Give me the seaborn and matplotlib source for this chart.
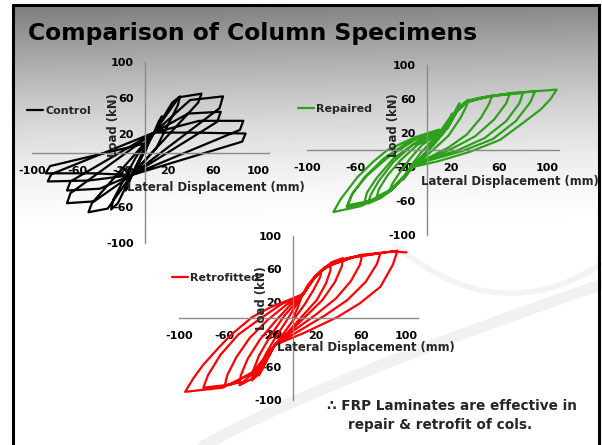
import numpy as np
import pandas as pd
import matplotlib
matplotlib.use("Agg")
import matplotlib.pyplot as plt
import seaborn as sns

sns.set_style("white")
plt.rcParams['font.family'] = ['DejaVu Sans']
plt.rcParams['font.weight'] = 'bold'

# ---------------- data (displacement mm, load kN) ----------------
control_x = [0, 3, 6, 2, -4, -8, -5, 0,
             8, 12, 15, 12, 0, -12, -15, -17, -14, -2,
             8, 24, 31, 29, 10, -12, -24, -30, -28, -8,
             8, 30, 50, 47, -12, -33, -50, -47,
             8, 40, 69, 66, -12, -45, -69, -66,
             8, 38, 67, 64, -12, -40, -69, -66,
             8, 48, 87, 84, -12, -50, -86, -83,
             8, 40, 89, 86, -12, -45, -88, -84, 0]
control_y = [0, 10, 18, 8, -8, -20, -10, 3,
             22, 34, 40, 30, 5, -25, -36, -42, -32, 0,
             22, 55, 62, 52, 5, -25, -56, -63, -52, -5,
             22, 61, 65, 55, -25, -62, -66, -56,
             22, 58, 62, 49, -25, -54, -56, -45,
             22, 43, 45, 34, -25, -40, -42, -32,
             22, 35, 35, 25, -25, -31, -32, -24,
             22, 22, 21, 12, -25, -23, -23, -15, 10]

repaired_x = [0, 5, 10, 15, 19, 21, 20, 16, 10, 2, -6, -12, -17, -20, -18, -13, -5, 5,
              12, 17, 22, 25, 27, 26, 22, 15, 5, -5, -12, -20, -26, -31, -29, -23, -14, -4, 8, 17,
              23, 28, 34, 33, 28, 18, 5, -12, -22, -32, -42, -40, -33, -22, -8, 5, 17,
              24, 32, 42, 54, 52, 45, 33, 18, 0, -12, -26, -38, -49, -47, -40, -28, -12, 17,
              25, 33, 48, 69, 66, 56, 40, 20, -12, -27, -40, -52, -50, -42, -28, -8, 17,
              25, 34, 55, 80, 77, 66, 48, 26, 0, -12, -30, -48, -67, -63, -52, -36, -14, 17,
              26, 35, 60, 90, 86, 74, 55, 30, 0, -12, -30, -48, -66, -62, -50, -32, -10, 17,
              26, 36, 70, 108, 103, 95, 83, 61, 36, 10, -12, -32, -55, -78, -72, -58, -45,
              -33, -10, 10]
repaired_y = [0, 10, 20, 30, 38, 43, 38, 28, 16, 2, -10, -20, -30, -35, -29, -18, -3, 12,
              20, 30, 42, 50, 55, 49, 38, 22, 5, -9, -20, -32, -41, -47, -40, -27, -10, 6, 18, 26,
              42, 52, 59, 52, 38, 17, 0, -20, -36, -48, -55, -46, -30, -12, 6, 16, 26,
              44, 55, 61, 64, 55, 38, 18, 3, -10, -20, -42, -56, -63, -53, -36, -14, 6, 26,
              46, 56, 62, 66, 55, 36, 16, 1, -20, -44, -57, -61, -50, -33, -10, 10, 26,
              47, 57, 64, 67, 55, 34, 14, 0, -12, -20, -47, -61, -67, -53, -32, -10, 11, 26,
              48, 58, 65, 69, 56, 34, 13, -1, -13, -20, -48, -60, -65, -51, -30, -8, 12, 26,
              49, 59, 67, 71, 60, 48, 35, 12, -2, -13, -20, -50, -66, -73, -58, -32, -14,
              0, 15, 24]

retro_x = [0, 4, 8, 13, 19, 25, 24, 18, 10, 0, -10, -16, -22, -26, -30, -29, -24, -16, -6, 2, 9,
           15, 22, 28, 33, 33, 29, 21, 8, -5, -16, -24, -30, -36, -35, -30, -20, -8, 9,
           16, 24, 34, 44, 43, 37, 26, 12, -3, -16, -26, -36, -47, -46, -40, -29, -15, -3, 9,
           17, 26, 42, 61, 59, 51, 38, 20, 0, -16, -29, -44, -60, -58, -50, -38, -22, -6, 9,
           18, 28, 48, 77, 74, 64, 48, 28, 5, -16, -32, -54, -79, -75, -64, -48, -28, -10, 9,
           19, 30, 55, 92, 88, 77, 59, 39, 10, -16, -36, -62, -95, -88, -79, -66, -55, -36, -20, 9,
           19, 31, 60, 88, 100]
retro_y = [0, 12, 28, 40, 50, 58, 50, 34, 16, -3, -22, -33, -48, -60, -70, -60, -44, -25, -4, 14, 29,
           42, 54, 62, 65, 58, 42, 22, 2, -18, -33, -54, -68, -76, -64, -46, -22, 2, 29,
           44, 56, 68, 73, 63, 44, 22, 3, -17, -33, -56, -74, -82, -70, -50, -26, -3, 15, 29,
           46, 59, 71, 77, 65, 45, 24, 4, -16, -33, -60, -78, -82, -70, -48, -24, -2, 16, 29,
           48, 61, 73, 79, 66, 44, 22, 3, -16, -33, -63, -81, -85, -70, -45, -20, 0, 17, 29,
           49, 63, 75, 82, 65, 38, 18, 1, -18, -33, -67, -85, -90, -74, -57, -37, -21, 1, 13, 29,
           50, 64, 77, 81, 80]

tick_vals = [-100, -60, -20, 20, 60, 100]
tick_labels = ['-100', '-60', '-20', '20', '60', '100']

specimens = ['Control', 'Repaired', 'Retrofitted']
colors = ['#000000', '#2ea01c', '#ff0000']

W, H = 602, 445
fig = plt.figure(figsize=(W / 100, H / 100), dpi=100)

# ---------------- slide background ----------------
bg = fig.add_axes([0, 0, 1, 1])
bg.set_xlim(0, W)
bg.set_ylim(H, 0)
bg.axis('off')
yy = np.arange(H)[:, None] * np.ones((1, W))
xx = np.ones((H, 1)) * np.arange(W)[None, :]
t = np.clip((yy - 5) / 225.0, 0, 1)
gray = 0.50 + 0.50 * (1 - (1 - t) ** 1.6)
gray = gray + 0.05 * (xx / W) * (1 - t)
gray = np.clip(gray, 0, 1)
bg.imshow(gray, cmap='gray', vmin=0, vmax=1, extent=(13, 599, H, 5), aspect='auto', zorder=0)
# decorative swooshes
sx = np.linspace(170, 600, 200)
bg.plot(sx, 470 - 185 * ((sx - 170) / 430) ** 0.8, color='#f1f1f1', lw=8, zorder=1)
sx2 = np.linspace(395, 600, 100)
u = (sx2 - 395) / 205
bg.plot(sx2, 245 + 170 * u - 150 * u ** 2, color='#f3f3f3', lw=4, zorder=1)
bg.plot([13, 13, 599, 599], [H + 5, 5, 5, H + 5], color='black', lw=2.2, zorder=2,
        solid_joinstyle='miter')

fig.text(28 / W, 1 - 40 / H, 'Comparison of Column Specimens', fontsize=16.8,
         fontweight='bold', ha='left', va='baseline', color='black')


def make_axes(x0, x1, ytop, ybot):
    ax = fig.add_axes([x0 / W, 1 - ybot / H, (x1 - x0) / W, (ybot - ytop) / H])
    ax.patch.set_visible(False)
    ax.set_xlim(-100, 110)
    ax.set_ylim(-100, 100)
    for s in ['top', 'right']:
        ax.spines[s].set_visible(False)
    for s in ['left', 'bottom']:
        ax.spines[s].set_position(('data', 0))
        ax.spines[s].set_color('#8a8a8a')
        ax.spines[s].set_linewidth(1.0)
    ax.spines['bottom'].set_bounds(-100, 110)
    ax.set_xticks(tick_vals)
    ax.set_xticklabels(tick_labels)
    ax.set_yticks(tick_vals)
    ax.set_yticklabels(tick_labels)
    ax.tick_params(axis='both', direction='inout', length=5, width=1, color='#8a8a8a',
                   labelsize=8, labelcolor='black')
    ax.tick_params(axis='y', pad=5.5)
    ax.tick_params(axis='x', pad=7)
    for lab in ax.get_xticklabels() + ax.get_yticklabels():
        lab.set_fontweight('bold')
    return ax


axes_px = [(32, 32 + 210 * 1.13, 62, 243),
           (307, 307 + 210 * 1.2, 65, 235),
           (179.5, 179.5 + 210 * 1.135, 236, 400)]
data = [(control_x, control_y), (repaired_x, repaired_y), (retro_x, retro_y)]
legend_px = [(27, 111), (298, 109), (172, 278)]
xlab_px = [(127, 187), (421, 181), (277, 348)]
ylab_px = [(114, 125), (393, 125), (262, 298)]

for i in range(3):
    ax = make_axes(*axes_px[i])
    df = pd.DataFrame({'Lateral Displacement (mm)': data[i][0], 'Load (kN)': data[i][1]})
    sns.lineplot(data=df, x='Lateral Displacement (mm)', y='Load (kN)', sort=False,
                 estimator=None, color=colors[i], lw=1.6, ax=ax, label=specimens[i])
    for ln in ax.lines:
        ln.set_solid_joinstyle('round')
        ln.set_clip_on(False)
    ax.set_xlabel('')
    ax.set_ylabel('')
    lx, ly = legend_px[i]
    ax.legend(loc='center left', bbox_to_anchor=(lx / W, 1 - ly / H),
              bbox_transform=fig.transFigure, frameon=False, borderpad=0,
              borderaxespad=0, handlelength=1.4, handletextpad=0.25,
              prop={'weight': 'bold', 'size': 8})
    fig.text(xlab_px[i][0] / W, 1 - xlab_px[i][1] / H, 'Lateral Displacement (mm)',
             fontsize=8.4, fontweight='bold', ha='left', va='center')
    fig.text(ylab_px[i][0] / W, 1 - ylab_px[i][1] / H, 'Load (kN)', rotation=90,
             fontsize=8.4, fontweight='bold', ha='center', va='center')

fig.text(327 / W, 1 - 406 / H, '\u2234 FRP Laminates are effective in', fontsize=9.8,
         fontweight='bold', ha='left', va='center')
fig.text(348 / W, 1 - 425 / H, 'repair & retrofit of cols.', fontsize=9.8,
         fontweight='bold', ha='left', va='center')

fig.savefig('out.png', dpi=100)
